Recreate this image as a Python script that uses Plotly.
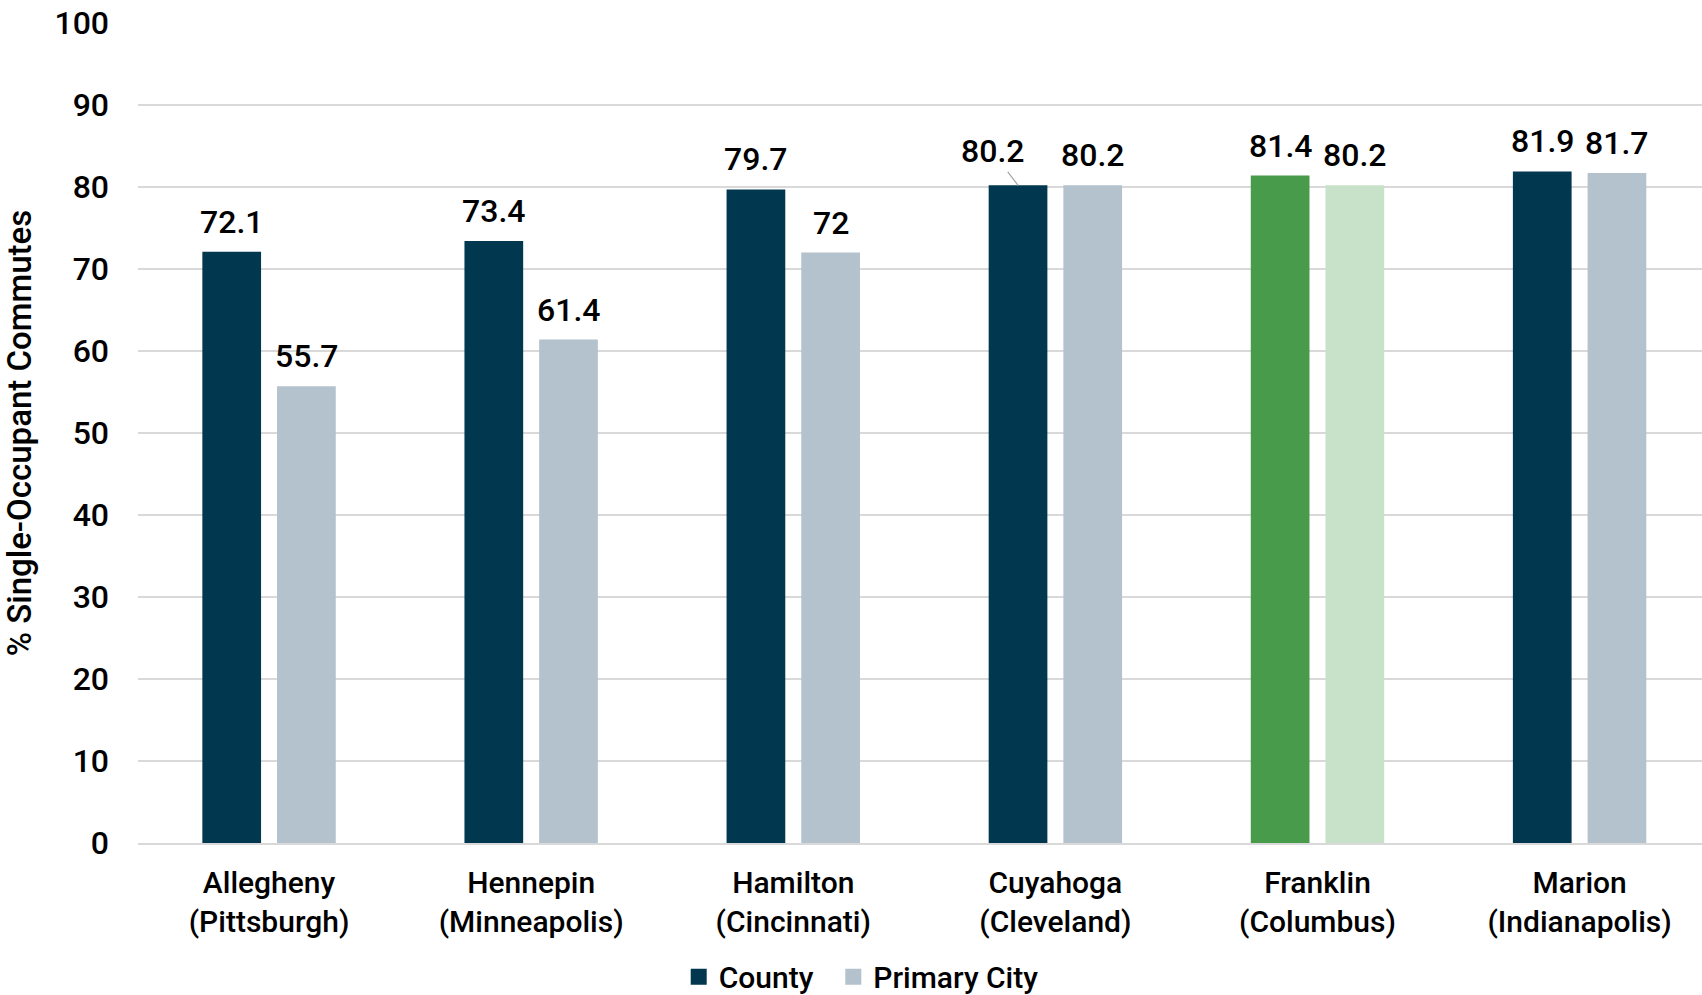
import plotly.graph_objects as go

categories = ["Allegheny<br>(Pittsburgh)", "Hennepin<br>(Minneapolis)", "Hamilton<br>(Cincinnati)",
              "Cuyahoga<br>(Cleveland)", "Franklin<br>(Columbus)", "Marion<br>(Indianapolis)"]
county = [72.1, 73.4, 79.7, 80.2, 81.4, 81.9]
city = [55.7, 61.4, 72, 80.2, 80.2, 81.7]
county_labels = ["72.1", "73.4", "79.7", "80.2", "81.4", "81.9"]
city_labels = ["55.7", "61.4", "72", "80.2", "80.2", "81.7"]
y_ticks = [0, 10, 20, 30, 40, 50, 60, 70, 80, 90, 100]

NAVY = "#023750"
GREY = "#B3C2CC"
GREEN = "#489B4A"
LGREEN = "#C8E2C9"
county_colors = [GREEN if c.startswith("Franklin") else NAVY for c in categories]
city_colors = [LGREEN if c.startswith("Franklin") else GREY for c in categories]

FONT = "Roboto"
W = 500
TXT = 30
NUM = 32

fig = go.Figure()
fig.add_trace(go.Bar(name="County", x=categories, y=county, showlegend=False,
                     marker=dict(color=county_colors, line_width=0)))
fig.add_trace(go.Bar(name="Primary City", x=categories, y=city, showlegend=False,
                     marker=dict(color=city_colors, line_width=0)))
# legend entries with larger square swatches
fig.add_trace(go.Scatter(name="County&nbsp;&nbsp;", x=[None], y=[None], mode="markers",
                         marker=dict(symbol="square", size=17, color=NAVY)))
fig.add_trace(go.Scatter(name="Primary City", x=[None], y=[None], mode="markers",
                         marker=dict(symbol="square", size=17, color=GREY)))

OFF = 37.3
lab_font = dict(size=NUM, color="black", family=FONT, weight=W)
for i, c in enumerate(categories):
    if c.startswith("Cuyahoga"):
        fig.add_annotation(x=c, y=county[i], text=county_labels[i], xshift=-OFF, showarrow=True,
                           arrowhead=0, arrowwidth=1.2, arrowcolor="#A6A6A6", ax=-26, ay=-34,
                           font=lab_font)
    else:
        fig.add_annotation(x=c, y=county[i], text=county_labels[i], xshift=-OFF, yshift=9,
                           yanchor="bottom", showarrow=False, font=lab_font)
    fig.add_annotation(x=c, y=city[i], text=city_labels[i], xshift=OFF, yshift=9,
                       yanchor="bottom", showarrow=False, font=lab_font)

fig.update_layout(
    width=1702, height=995,
    margin=dict(l=138, r=0, t=23, b=152, autoexpand=False),
    paper_bgcolor="white", plot_bgcolor="white",
    barmode="group", bargap=0.43, bargroupgap=0.214,
    font=dict(family=FONT, size=TXT, color="black", weight=W),
    showlegend=True,
    legend=dict(orientation="h", x=0.506, xref="container", xanchor="center", y=-0.163, yanchor="middle",
                font=dict(size=TXT, family=FONT, weight=W), itemwidth=30, tracegroupgap=0),
)
fig.update_yaxes(range=[0, 100], tickvals=y_ticks, showgrid=True, gridcolor="#D9D9D9", gridwidth=1.5,
                 zeroline=False, ticks="", ticklabelstandoff=28, automargin=False,
                 title=dict(text="% Single-Occupant Commutes", standoff=16,
                            font=dict(size=33, family=FONT, weight=W)),
                 tickfont=dict(size=NUM, family=FONT, weight=W))
fig.update_xaxes(range=[-0.5, 5.467], showline=True, linecolor="#D9D9D9", linewidth=1.5, ticks="",
                 ticklabelstandoff=12, automargin=False, tickfont=dict(size=TXT, family=FONT, weight=W))

fig.write_html("out.html")
